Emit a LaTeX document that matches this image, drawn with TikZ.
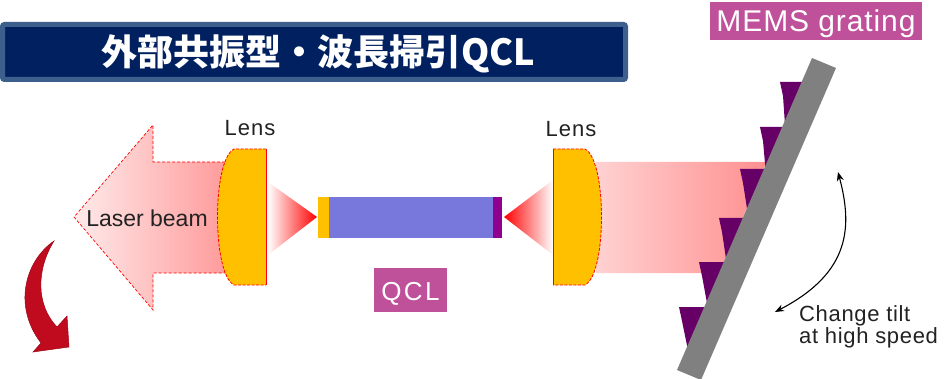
\documentclass[tikz,border=0pt]{standalone}
\usepackage{fontspec}
\setmainfont{Liberation Sans}
\newfontfamily\cjk{Noto Sans CJK JP}
\usetikzlibrary{arrows.meta}

\definecolor{navy}{HTML}{002060}
\definecolor{navyedge}{HTML}{3C5F8E}
\definecolor{lensfill}{HTML}{FFC000}
\definecolor{qclbody}{HTML}{7878DC}
\definecolor{qclrear}{HTML}{8F0090}
\definecolor{labelpink}{HTML}{BF509A}
\definecolor{toothc}{HTML}{660066}
\definecolor{barc}{HTML}{808080}
\definecolor{arrowred}{HTML}{C00A1E}
\definecolor{textgray}{HTML}{222222}

\tikzset{
  tag/.style={fill=labelpink, text=white, inner sep=0pt},
  lenslabel/.style={text=textgray, anchor=base,
    font=\fontsize{22}{24}\selectfont\addfontfeature{LetterSpace=5}},
  lensbody/.style={fill=lensfill},
  lensedge/.style={draw=red, line width=0.8pt},
  beamedge/.style={draw=red, line width=0.7pt, dash pattern=on 3pt off 2pt},
  tooth/.style={fill=toothc},
  tiltarrow/.style={draw=black, line width=1.1pt,
    {Stealth[length=9pt,width=7pt]}-{Stealth[length=9pt,width=7pt]}},
}

\begin{document}
\begin{tikzpicture}[x=1pt, y=-1pt]
\useasboundingbox (0,0) rectangle (944,379);

% title banner
\node (titlebox) [draw=navyedge, line width=5pt, fill=navy, rounded corners=2pt,
  minimum width=623pt, minimum height=55pt, inner sep=0pt] at (314,52) {};
\node (titletext) [anchor=base, text=white, inner sep=0pt,
  font=\cjk\bfseries\fontsize{36}{40}\selectfont] at (318,66) {外部共振型・波長掃引QCL};

% outgoing laser beam (left arrow)
\shade[left color=red!8, right color=red!42]
  (240,162) -- (153,162) -- (153,125) -- (74,217) -- (153,310) -- (153,273) -- (240,273) -- cycle;
\path[beamedge] (240,162) -- (153,162) -- (153,125) -- (74,217) -- (153,310) -- (153,273) -- (240,273);

% collimated beam towards the grating
\shade[left color=red!18, right color=red!44]
  (596,162) -- (766.6,162) -- (719,273) -- (596,273) -- cycle;

% diverging cones out of the chip facets
\shade[left color=white, middle color=red, right color=red]
  (268,182) -- (317,217) -- (268,255) -- cycle;
\shade[left color=red, middle color=red, right color=white]
  (504,217) -- (553,180) -- (553,255) -- cycle;

% left lens
\fill[lensbody] (266,149) -- (234,149) .. controls (212,160) and (212,274) .. (234,285) -- (266,285) -- cycle;
\path[lensedge] (266,149) -- (266,285);
\path[lensedge, dash pattern=on 3pt off 1.5pt] (266,149) -- (234,149) .. controls (212,160) and (212,274) .. (234,285) -- (266,285);

% right lens
\fill[lensbody] (553,149) -- (585,149) .. controls (607,160) and (607,274) .. (585,285) -- (553,285) -- cycle;
\path[lensedge] (553,149) -- (553,285);
\path[lensedge, dash pattern=on 3pt off 1.5pt] (553,149) -- (585,149) .. controls (607,160) and (607,274) .. (585,285) -- (553,285);

% QCL chip
\fill[lensfill] (318,197) rectangle (329,238);
\fill[qclbody] (329,197) rectangle (493,238);
\fill[qclrear] (493,197) rectangle (502,238);

% grating teeth
\foreach \xl/\yt in {780/82, 760/127, 740/169, 719/218, 699/262, 679/307} {
  \pgfmathsetmacro\xa{812-0.4327*(\yt-58)+1}
  \pgfmathsetmacro\xb{812-0.4327*(\yt+41-58)+1}
  \fill[tooth] (\xl,\yt) -- (\xa,\yt) -- (\xb,\yt+41) -- (\xl+3,\yt+14) -- cycle;
}
% grating substrate
\fill[barc] (812,58) -- (836,68) -- (701,380) -- (677,370) -- cycle;

% tilt arrow
\coordinate (tiltA) at (838,172);
\coordinate (tiltB) at (775,312);
\path[tiltarrow] (tiltA) .. controls (852,225) and (852,272) .. (tiltB);

% output direction arrow
\fill[arrowred, draw=arrowred!80!black, line width=0.5pt]
  (54,241) .. controls (26,260) and (12,305) .. (41,343) -- (33,352) -- (69,347) -- (67,316) -- (57,327)
  .. controls (36,305) and (36,270) .. (54,241) -- cycle;

% labels
\node (lensL) [lenslabel] at (250,136) {Lens};
\node (lensR) [lenslabel] at (571,137) {Lens};
\node (beam) [anchor=base, text=textgray, font=\fontsize{23}{25}\selectfont] at (147,227) {Laser beam};
\node (qcltag) [tag, minimum width=73pt, text height=32pt, text depth=12pt,
  font=\fontsize{26}{28}\selectfont\addfontfeature{LetterSpace=9}] at (410.5,290) {QCL};
\node (memstag) [tag, minimum width=212pt, text height=30pt, text depth=8pt,
  font=\fontsize{30}{32}\selectfont\addfontfeature{LetterSpace=3}] at (816,21) {MEMS grating};
\node (tilttext) [anchor=base west, align=left, text=textgray, inner sep=0pt,
  font=\fontsize{22}{20}\selectfont\addfontfeature{LetterSpace=3}] at (799,343) {Change tilt\\at high speed};
\end{tikzpicture}
\end{document}
